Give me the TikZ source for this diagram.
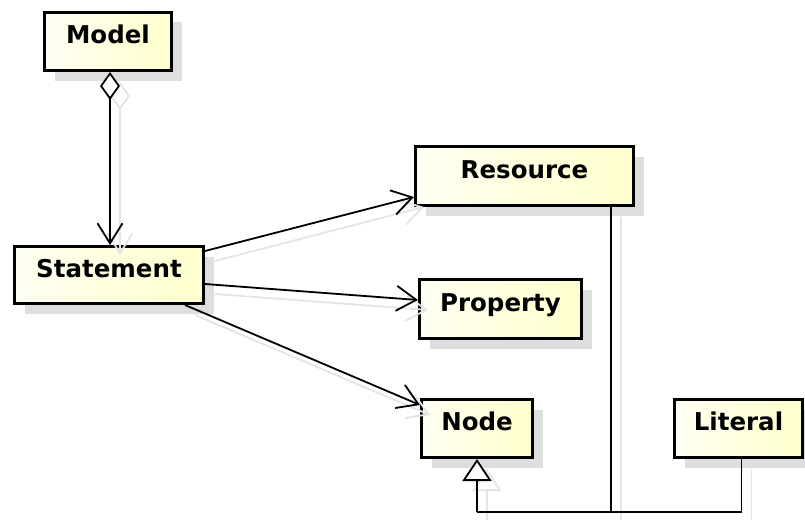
\documentclass[tikz,border=0pt]{standalone}
\usepackage{fontspec}
\setmainfont{DejaVu Sans}
\usetikzlibrary{arrows.meta,calc,shadows}
\definecolor{boxlight}{RGB}{255,255,242}
\definecolor{boxdark}{RGB}{255,255,205}
\definecolor{shadowgray}{RGB}{222,222,222}
\definecolor{ghostgray}{RGB}{228,228,228}
\tikzset{
  classbox/.style={draw=black, line width=3pt, rectangle, inner sep=0pt,
    left color=boxlight, right color=boxdark,
    general shadow={fill=shadowgray, shadow xshift=10pt, shadow yshift=-10pt},
    font=\fontsize{24.5}{28}\selectfont\bfseries,
    text height=18pt, text depth=14pt},
  conn/.style={draw=black, line width=1.8pt},
  ghost/.style={draw=ghostgray, line width=1.8pt,
    transform canvas={xshift=10pt, yshift=-10pt}},
  navarrow/.style={-{Straight Barb[length=20pt, width=25pt]}},
  aggstart/.style={{Diamond[fill=white, length=28pt, width=20pt]}-{Straight Barb[length=20pt, width=25pt]}},
  genarrow/.style={-{Triangle[open, fill=white, length=22pt, width=29pt]}}
}
\begin{document}
\begin{tikzpicture}[x=1pt, y=-1pt]
\useasboundingbox (0,0) rectangle (805,519);

% class boxes
\node[classbox, minimum width=127pt, minimum height=58pt] (model) at (108,41.5) {Model};
\node[classbox, minimum width=189pt, minimum height=57pt] (statement) at (109,275) {Statement};
\node[classbox, minimum width=218pt, minimum height=59pt] (resource) at (524.5,176) {Resource};
\node[classbox, minimum width=162pt, minimum height=59pt] (property) at (500.5,309) {Property};
\node[classbox, minimum width=111pt, minimum height=58pt] (node) at (477,428.5) {Node};
\node[classbox, minimum width=128pt, minimum height=58pt] (literal) at (738.5,428.5) {Literal};

% anchor points of the connectors
\coordinate (mS) at ($(model.south)+(2,0)$);
\coordinate (sN) at ($(statement.north)+(1,0)$);
\coordinate (sR) at ($(statement.north east)+(0,6)$);
\coordinate (rW) at ($(resource.south west)+(0,-10)$);
\coordinate (sP) at ($(statement.east)+(0,9)$);
\coordinate (pW) at ($(property.west)+(0,-9)$);
\coordinate (sB) at ($(statement.south east)+(-20,0)$);
\coordinate (nW) at ($(node.north west)+(0,7)$);
\coordinate (lS) at ($(literal.south)+(3,0)$);
\coordinate (bend) at ($(node.south)+(0,53)$);
\coordinate (rS) at ($(resource.south east)+(-24,0)$);
\coordinate (join) at (rS |- bend);

% faint drop shadows of the connectors
\draw[ghost, aggstart] (mS) -- (sN);
\draw[ghost, navarrow] (sR) -- (rW);
\draw[ghost, navarrow] (sP) -- (pW);
\draw[ghost, navarrow] (sB) -- (nW);
\draw[ghost] (lS) |- (bend);
\draw[ghost, genarrow] (bend) -- (node.south);
\draw[ghost] (rS) -- (join);

% aggregation Model -> Statement
\draw[conn, aggstart] (mS) -- (sN);
% navigable associations from Statement
\draw[conn, navarrow] (sR) -- (rW);
\draw[conn, navarrow] (sP) -- (pW);
\draw[conn, navarrow] (sB) -- (nW);
% generalisation of Resource and Literal into Node
\draw[conn] (lS) |- (bend);
\draw[conn, genarrow] (bend) -- (node.south);
\draw[conn] (rS) -- (join);
\end{tikzpicture}
\end{document}
